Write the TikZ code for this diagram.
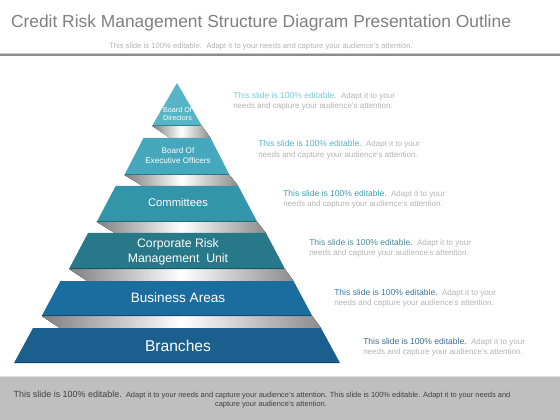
\documentclass[tikz,border=0pt]{standalone}
\usepackage{fontspec}
\setmainfont{Liberation Sans}
\definecolor{cA}{HTML}{56B6C7}
\definecolor{cB}{HTML}{45A8BC}
\definecolor{cC}{HTML}{3295AA}
\definecolor{cD}{HTML}{27798A}
\definecolor{cE}{HTML}{1B6C9F}
\definecolor{cF}{HTML}{1A5F8D}
\definecolor{tA}{HTML}{7CCAD8}
\definecolor{tB}{HTML}{5AB3C4}
\definecolor{tC}{HTML}{3E9DB1}
\definecolor{tD}{HTML}{4A8A9A}
\definecolor{tE}{HTML}{3A78A8}
\definecolor{tF}{HTML}{3C6C95}
\definecolor{softgray}{HTML}{B4B4B4}
\definecolor{titlegray}{HTML}{808080}
\definecolor{footbg}{HTML}{BFBFBF}
\definecolor{foottxt}{HTML}{404040}
\begin{document}
\begin{tikzpicture}[x=0.75pt,y=-0.75pt,
  band/.style={left color=black!50,right color=black!45,middle color=white},
  tierlabel/.style={text=white,align=center,inner sep=0pt},
  desc/.style={anchor=base west,inner sep=0pt,font=\fontsize{6}{7}\selectfont,text=softgray},
  edgeline/.style={line width=1.2pt}]
\useasboundingbox (0,0) rectangle (560,420);
\fill[white] (0,0) rectangle (560,420);
% header
\node[anchor=base,text=titlegray,font=\fontsize{13.05}{15}\selectfont] (title) at (261,28) {Credit Risk Management Structure Diagram Presentation Outline};
\node[anchor=base,text=softgray,font=\fontsize{5.75}{6.5}\selectfont] (subtitle) at (261,48.5) {This slide is 100\% editable.\ \ Adapt it to your needs and capture your audience's attention.};
\fill[black!45] (0,54) rectangle (560,56);
\fill[black!20] (0,53.3) rectangle (560,54);
% bands
\fill[band] (152,126) -- (202,126) -- (210.6,138) -- (170,138) -- cycle;
\fill[band] (124.4,175) -- (229.6,175) -- (238.3,186) -- (142.4,186) -- cycle;
\fill[band] (96.7,222) -- (257.3,222) -- (266,233) -- (114.7,233) -- cycle;
\fill[band] (69,269) -- (285,269) -- (293.5,281) -- (87,281) -- cycle;
\fill[band] (41.7,316) -- (312.3,316) -- (321,328) -- (59.7,328) -- cycle;
% tiers
\fill[cA] (177,83) -- (202,126) -- (152,126) -- cycle;
\draw[cA!70!black,edgeline] (153,125.4) -- (201,125.4);
\fill[cB] (143.4,138) -- (210.6,138) -- (229.6,175) -- (124.4,175) -- cycle;
\draw[cB!70!black,edgeline] (125.4,174.4) -- (228.6,174.4);
\fill[cC] (115.7,186) -- (238.3,186) -- (257.3,222) -- (96.7,222) -- cycle;
\draw[cC!70!black,edgeline] (97.7,221.4) -- (256.3,221.4);
\fill[cD] (88,233) -- (266,233) -- (285,269) -- (69,269) -- cycle;
\draw[cD!70!black,edgeline] (70,268.4) -- (284,268.4);
\fill[cE] (60.5,281) -- (293.5,281) -- (312.3,316) -- (41.7,316) -- cycle;
\draw[cE!70!black,edgeline] (42.7,315.4) -- (311.3,315.4);
\fill[cF] (33,328) -- (321,328) -- (340,363) -- (14,363) -- cycle;
\draw[cF!70!black,edgeline] (15,362.4) -- (339,362.4);
% tier labels
\node[tierlabel,font=\fontsize{5.4}{6.3}\selectfont] (l1) at (177.5,114) {Board Of\\Directors};
\node[tierlabel,font=\fontsize{6.1}{7.6}\selectfont] (l2) at (178,155.5) {Board Of\\Executive Officers};
\node[tierlabel,font=\fontsize{8.4}{10}\selectfont] (l3) at (178,202) {Committees};
\node[tierlabel,font=\fontsize{9.2}{11}\selectfont] (l4) at (178,251.5) {Corporate Risk\\Management\ \ Unit};
\node[tierlabel,font=\fontsize{10.2}{12}\selectfont] (l5) at (178,298) {Business Areas};
\node[tierlabel,font=\fontsize{11.7}{14}\selectfont] (l6) at (178,346) {Branches};
% descriptions
\node[desc] (d1a) at (233,98.7) {{\fontsize{6.4}{7}\selectfont\color{tA}This slide is 100\% editable.}\ \ Adapt it to your};
\node[desc] (d1b) at (233,108.7) {needs and capture your audience's attention.};
\node[desc] (d2a) at (258,147) {{\fontsize{6.4}{7}\selectfont\color{tB}This slide is 100\% editable.}\ \ Adapt it to your};
\node[desc] (d2b) at (258,157.5) {needs and capture your audience's attention.};
\node[desc] (d3a) at (283,196.5) {{\fontsize{6.4}{7}\selectfont\color{tC}This slide is 100\% editable.}\ \ Adapt it to your};
\node[desc] (d3b) at (283,207) {needs and capture your audience's attention.};
\node[desc] (d4a) at (309,246) {{\fontsize{6.4}{7}\selectfont\color{tD}This slide is 100\% editable.}\ \ Adapt it to your};
\node[desc] (d4b) at (309,256) {needs and capture your audience's attention.};
\node[desc] (d5a) at (334,295) {{\fontsize{6.4}{7}\selectfont\color{tE}This slide is 100\% editable.}\ \ Adapt it to your};
\node[desc] (d5b) at (334,305) {needs and capture your audience's attention.};
\node[desc] (d6a) at (363,344.7) {{\fontsize{6.4}{7}\selectfont\color{tF}This slide is 100\% editable.}\ \ Adapt it to your};
\node[desc] (d6b) at (363,354.7) {needs and capture your audience's attention.};
% footer
\fill[footbg] (0,377) rectangle (560,420);
\fill[black!12] (0,376.3) rectangle (560,377.3);
\node[anchor=base,inner sep=0pt,text=foottxt,font=\fontsize{5.6}{6.5}\selectfont] (f1) at (262,397.5) {{\fontsize{6.7}{7}\selectfont This slide is 100\% editable.}\ \ Adapt it to your needs and capture your audience's attention. This slide is 100\% editable. Adapt it to your needs and};
\node[anchor=base,inner sep=0pt,text=foottxt,font=\fontsize{5.6}{6.5}\selectfont] (f2) at (271,406.5) {capture your audience's attention.};
\end{tikzpicture}
\end{document}
